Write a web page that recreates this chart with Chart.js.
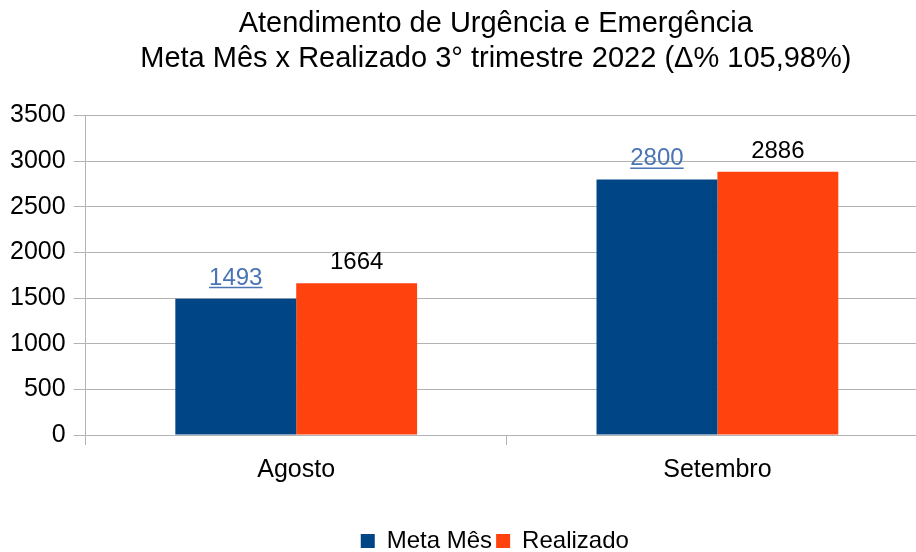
<!DOCTYPE html>
<html>
<head>
<meta charset="utf-8">
<script src="https://cdn.jsdelivr.net/npm/chart.js@4/dist/chart.umd.min.js"></script>
<style>
  html, body { margin: 0; padding: 0; background: #fff; overflow: hidden; }
  /* the plot runs a little past the right edge of the window, as in the original */
  #wrap { width: 928px; height: 552px; }
</style>
</head>
<body>
<div id="wrap"><canvas id="myChart"></canvas></div>
<script>
"use strict";

var months = ['Agosto', 'Setembro'];
var metaMes = [1493, 2800];
var realizado = [1664, 2886];
var yTicks = [0, 500, 1000, 1500, 2000, 2500, 3000, 3500];
var titleLines = ['Atendimento de Urgência e Emergência', 'Meta Mês x Realizado 3° trimestre 2022 (Δ% 105,98%)'];

var visibleWidth = 916;

Chart.defaults.font.family = '"Liberation Sans", Arial, sans-serif';
Chart.defaults.color = '#000';

// draws the value above each bar, the Meta one underlined in blue
var valueLabels = {
    id: 'valueLabels',
    afterLayout: function(chart) {
        // title and legend sit roughly over the visible plot
        var area = chart.chartArea;
        chart.titleBlock.left = area.left - 10;
        chart.titleBlock.right = visibleWidth;
        chart.legend.left = area.left - 12;
        chart.legend.right = visibleWidth;
        chart.legend.top += 11;
        chart.legend.bottom += 11;
    },
    afterDatasetsDraw: function(chart) {
        var ctx = chart.ctx;
        ctx.save();
        ctx.font = '24px "Liberation Sans", Arial, sans-serif';
        ctx.textAlign = 'center';
        ctx.textBaseline = 'alphabetic';
        chart.data.datasets.forEach(function(ds, i) {
            var meta = chart.getDatasetMeta(i);
            meta.data.forEach(function(bar, j) {
                var txt = String(ds.data[j]);
                var x = bar.x;
                var y = bar.y - 14;
                ctx.fillStyle = ds.labelColor;
                ctx.fillText(txt, x, y);
                if (ds.underline) {
                    var w = ctx.measureText(txt).width;
                    ctx.fillRect(x - w / 2, y + 2, w, 1.5);
                }
            });
        });
        ctx.restore();
    }
};

var ctx1 = document.getElementById('myChart').getContext('2d');
var myChart = new Chart(ctx1, {
    type: 'bar',
    data: {
        labels: months,
        datasets: [{
            label: 'Meta Mês',
            data: metaMes,
            backgroundColor: '#004586',
            labelColor: '#4a74b4',
            underline: true
        }, {
            label: 'Realizado',
            data: realizado,
            backgroundColor: '#ff420e',
            labelColor: '#000',
            underline: false
        }]
    },
    options: {
        responsive: true,
        maintainAspectRatio: false,
        animation: false,
        datasets: {
            bar: {
                categoryPercentage: 0.574,
                barPercentage: 1.0
            }
        },
        layout: {
            padding: { left: 2, right: 0, top: 7, bottom: 0 }
        },
        plugins: {
            title: {
                display: true,
                text: titleLines,
                font: { size: 29, weight: 'normal', lineHeight: 1.2 },
                color: '#000',
                padding: { top: 0, bottom: 39 }
            },
            legend: {
                position: 'bottom',
                labels: {
                    boxWidth: 14,
                    boxHeight: 14,
                    padding: 4,
                    font: { size: 24 },
                    color: '#000'
                }
            },
            tooltip: { enabled: false }
        },
        scales: {
            x: {
                grid: {
                    display: true,
                    drawOnChartArea: false,
                    offset: true,
                    tickLength: 10,
                    color: '#b3b3b3'
                },
                border: { color: '#b3b3b3' },
                ticks: {
                    font: { size: 25 },
                    color: '#000',
                    padding: 10
                },
                afterFit: function(axis) {
                    axis.height += 19;
                }
            },
            y: {
                min: 0,
                max: 3500,
                afterBuildTicks: function(axis) {
                    axis.ticks = yTicks.map(function(v) { return { value: v }; });
                },
                grid: {
                    color: '#b3b3b3',
                    tickLength: 12
                },
                border: { color: '#b3b3b3' },
                ticks: {
                    font: { size: 25 },
                    color: '#000',
                    padding: 8,
                    callback: function(v) { return String(v); }
                }
            }
        }
    },
    plugins: [valueLabels]
});
</script>
</body>
</html>
